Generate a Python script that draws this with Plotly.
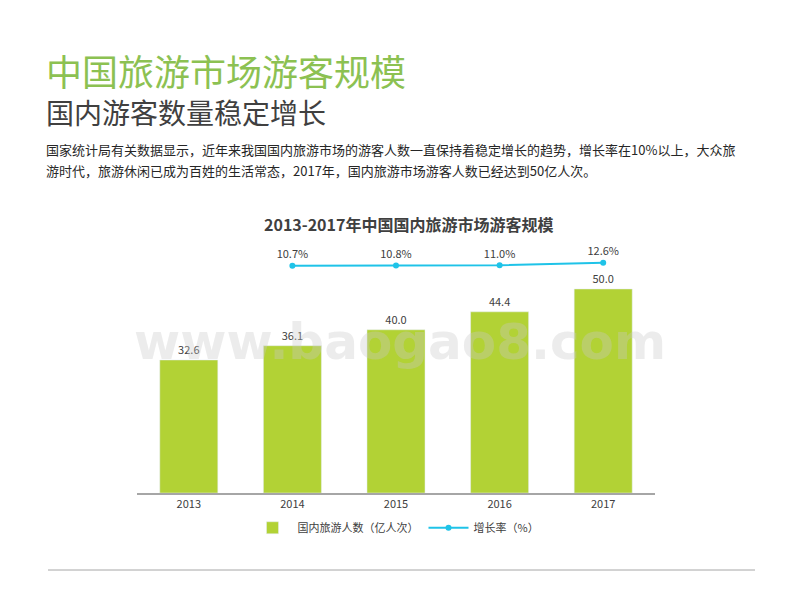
import plotly.graph_objects as go

years = ["2013", "2014", "2015", "2016", "2017"]
visitors = [32.6, 36.1, 40.0, 44.4, 50.0]
growth = [10.7, 10.8, 11.0, 12.6]
growth_years = ["2014", "2015", "2016", "2017"]

GREEN = "#b2d235"
CYAN = "#1fc3e8"
FONT = "Noto Sans CJK SC"

fig = go.Figure()
fig.add_trace(go.Bar(
    x=years, y=visitors, name="国内旅游人数（亿人次）",
    marker_color=GREEN, width=0.56,
    text=[f"{v:.1f}" for v in visitors], textposition="outside",
    textfont=dict(size=11, color="#404040"), cliponaxis=False,
))
fig.add_trace(go.Scatter(
    x=growth_years, y=growth, name="增长率（%）", yaxis="y2",
    mode="lines+markers+text", line=dict(color=CYAN, width=2),
    marker=dict(size=6, color=CYAN),
    text=[f"{v:.1f}%" for v in growth], textposition="top center",
    textfont=dict(size=11, color="#404040"), cliponaxis=False,
))

# page has an 8px body margin, so margins are offset by 8
fig.update_layout(
    width=800, height=600, plot_bgcolor="white", paper_bgcolor="white",
    margin=dict(l=129, r=153, t=232, b=115),
    font=dict(family=FONT, color="#404040"),
    bargap=0.44,
    xaxis=dict(showline=True, linecolor="#a6a6a6", linewidth=2, ticks="",
               tickfont=dict(size=11, color="#404040")),
    yaxis=dict(range=[0, 62], visible=False),
    yaxis2=dict(range=[-133, 27], overlaying="y", visible=False),
    showlegend=True,
    legend=dict(orientation="h", x=0.5, xanchor="center", y=-0.08, yanchor="top",
                font=dict(size=11, color="#404040"), itemwidth=40),
)


def px_x(x):
    return (x - 137) / 518


def px_y(y):
    return (493 - y) / 253


annos = [
    dict(text="中国旅游市场游客规模", x=44, y=70, size=36, color="#8cc152"),
    dict(text="国内游客数量稳定增长", x=44, y=112, size=28, color="#404040"),
    dict(text="国家统计局有关数据显示，近年来我国国内旅游市场的游客人数一直保持着稳定增长的趋势，增长率在10%以上，大众旅",
         x=44, y=149, size=13, color="#262626"),
    dict(text="游时代，旅游休闲已成为百姓的生活常态，2017年，国内旅游市场游客人数已经达到50亿人次。",
         x=44, y=170, size=13, color="#262626"),
]
for a in annos:
    fig.add_annotation(text=a["text"], xref="paper", yref="paper",
                       x=px_x(a["x"]), y=px_y(a["y"]),
                       xanchor="left", yanchor="middle", showarrow=False,
                       font=dict(size=a["size"], color=a["color"], family=FONT))
fig.add_annotation(text="<b>2013-2017年中国国内旅游市场游客规模</b>", xref="paper", yref="paper",
                   x=px_x(408), y=px_y(224), yanchor="middle", showarrow=False,
                   font=dict(size=16, color="#404040", family=FONT))
fig.add_annotation(text="<b>www.baogao8.com</b>", xref="paper", yref="paper",
                   x=px_x(400), y=px_y(342), yanchor="middle", showarrow=False,
                   font=dict(size=50, color="rgba(200,200,200,0.35)", family="DejaVu Sans"))
fig.add_shape(type="line", xref="paper", yref="paper",
              x0=px_x(48), x1=px_x(755), y0=px_y(570), y1=px_y(570),
              line=dict(color="#a6a6a6", width=1))

fig.write_html("out.html")
